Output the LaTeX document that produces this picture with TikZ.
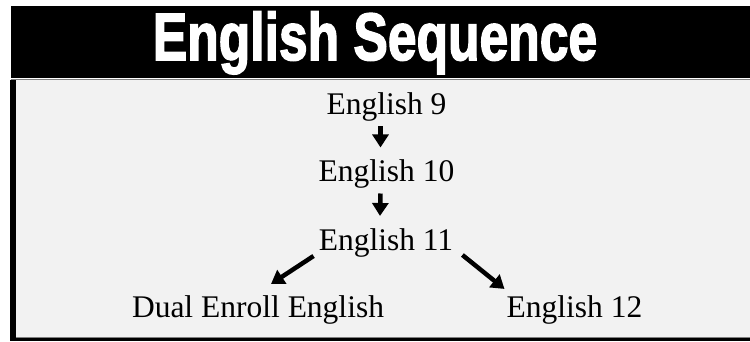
\documentclass[tikz,border=0pt]{standalone}
\usepackage{fontspec}
\setmainfont{Liberation Serif}
\newfontfamily\titulo{Liberation Sans}[BoldFeatures={FakeBold=2.5}]
\usetikzlibrary{calc,arrows.meta}
\definecolor{fondo}{HTML}{F2F2F2}

\begin{document}
\begin{tikzpicture}[x=1pt,y=-1pt]
  % Definimos los estilos para los cursos y las flechas
  \tikzstyle{curso} = [inner sep=0pt, anchor=base, font=\fontsize{31.5}{36}\selectfont];
  \tikzstyle{flecha} = [line width=4.5pt, -{Triangle[length=13pt,width=16pt]}];

  % Fondo de la figura
  \useasboundingbox (0,0) rectangle (750,341);
  \fill[white] (0,0) rectangle (750,341);

  % Recuadro gris con su borde
  \fill[fondo] (16,80) rectangle (750,337);
  \fill[black] (10,80) rectangle (16,341);
  \fill[black] (10,338) rectangle (750,341);
  \draw[gray, line width=1pt] (16,337.5) -- (750,337.5);

  % Franja negra del titulo
  \fill[black] (11,6) rectangle (750,78);
  \draw[gray, line width=1pt] (11,79) -- (750,79);
  \node[anchor=base, inner sep=0pt, text=white, font=\titulo\bfseries\fontsize{67}{70}\selectfont] (titulo) at (375,60) {\scalebox{0.77}[1]{English Sequence}};

  % Los cursos
  \node[curso] (e9) at (386.5,114) {English 9};
  \node[curso] (e10) at (386.5,181.5) {English 10};
  \node[curso] (e11) at (386,250) {English 11};
  \node[curso] (dual) at (258,317) {Dual Enroll English};
  \node[curso] (e12) at (574.5,317) {English 12};

  % Las flechas entre cursos
  \draw[flecha] ([xshift=-6pt,yshift=-5pt]e9.south) -- ([xshift=-6pt,yshift=12pt]e10.north);
  \draw[flecha] ([xshift=-6pt,yshift=-5pt]e10.south) -- ([xshift=-6pt,yshift=12pt]e11.north);
  \draw[flecha] ($(e11.south west)+(-5,-1)$) -- ($(dual.north)+(13,-11)$);
  \draw[flecha] ($(e11.south east)+(9,-2)$) -- ($(e12.north west)+(-2,-6)$);
\end{tikzpicture}
\end{document}
